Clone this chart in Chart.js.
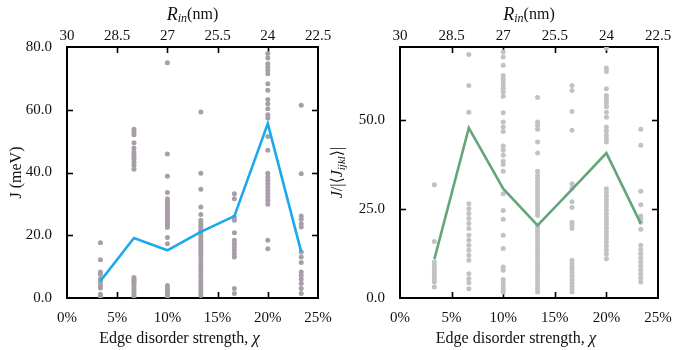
<!DOCTYPE html>
<html>
<head>
<meta charset="utf-8">
<script src="https://cdn.jsdelivr.net/npm/chart.js@4.4.1/dist/chart.umd.min.js"></script>
<style>
  body { margin: 0; background: #fff; }
  #wrap { position: relative; width: 680px; height: 350px; }
  canvas { position: absolute; top: 0; }
</style>
</head>
<body>
<div id="wrap">
  <canvas id="left" width="340" height="350" style="left:0"></canvas>
  <canvas id="right" width="360" height="350" style="left:320px"></canvas>
</div>
<script>
// ---------- DATA ----------
const disorder = [3.33, 6.67, 10, 13.33, 16.67, 20, 23.33];   // edge disorder strength (%)
const rinLabels = ["30", "28.5", "27", "25.5", "24", "22.5"];   // top axis, R_in (nm)

// left panel: J (meV), one array per disorder column
const jCol1 = [17.6, 12.2, 8.3, 7.5, 6.0, 5.1, 4.0, 3.2, 1.2, 0.4];
const jCol2 = [53.8, 52.9, 52.0, 49.5, 47.8, 46.5, 45.7, 44.9, 44.2, 43.3, 42.3, 41.0,
               6.5, 6.0, 5.5, 5.0, 4.5, 3.8, 3.0, 2.2, 1.5, 0.8, 0.3];
const jCol3 = [75.0, 45.9, 38.8, 33.6, 31.6, 30.9, 30.2, 29.5, 28.8, 28.1, 27.4, 26.7, 26.0,
               25.3, 24.6, 23.9, 23.2, 22.5, 19.3, 17.3, 4.0, 3.3, 2.6, 2.0, 1.3, 0.6, 0.1];
const jCol4 = [59.3, 39.8, 34.7, 29.0, 26.6, 24.8, 24.0, 23.2, 22.4, 21.6, 20.8, 20.0, 19.2,
               18.4, 17.6, 16.8, 16.0, 15.2, 14.4, 13.6, 12.6, 11.6, 10.6, 9.6, 8.6, 7.6,
               6.6, 5.6, 4.6, 3.6, 2.6, 1.6, 0.8];
const jCol5 = [33.2, 31.6, 25.8, 24.8, 20.8, 18.4, 17.3, 16.3, 15.2, 14.1, 13.1, 3.0, 1.4];
const jCol6 = [77.9, 76.5, 74.7, 73.6, 72.6, 71.5, 68.3, 66.2, 63.3, 61.9, 60.3, 58.4, 57.4,
               51.5, 47.1, 39.8, 38.6, 37.5, 36.4, 35.4, 34.3, 33.2, 32.2, 31.1, 29.9, 18.4, 15.7];
const jCol7 = [61.4, 39.6, 26.1, 25.1, 23.7, 22.6, 14.7, 13.1, 11.3, 8.3, 7.2, 6.0, 4.6, 3.0, 1.4];
const jMean = [5.4, 19.1, 15.2, 21.1, 26.1, 55.6, 14.7];

// right panel: J / |<J_ijkl>|
const rCol1 = [31.8, 15.9, 10.1, 9.2, 8.2, 7.3, 6.4, 5.4, 4.5, 3.1];
const rCol2 = [68.4, 59.7, 52.2, 26.5, 25.1, 23.7, 22.3, 20.9, 19.5, 17.6, 16.2, 14.8, 13.4,
               12.0, 10.6, 6.8, 5.4, 4.3, 2.6];
const rCol3 = [69.1, 67.7, 65.4, 62.5, 61.6, 60.7, 59.7, 58.8, 57.9, 56.7, 52.0, 49.4, 48.0,
               46.8, 42.7, 41.5, 40.1, 38.4, 37.5, 35.6, 29.3, 24.6, 22.1, 17.6, 13.9, 8.7,
               7.8, 5.2, 4.3, 3.4, 2.4, 1.7];
const rCol4 = [56.3, 49.4, 48.5, 47.4, 43.8, 40.7, 35.6, 34.5, 33.6, 32.6, 31.7, 30.7, 29.8,
               28.8, 27.9, 26.9, 26.0, 25.1, 24.1, 23.2, 20.4, 19.5, 18.6, 17.6, 16.7, 15.8,
               14.8, 13.9, 13.0, 12.0, 11.1, 10.2, 9.2, 8.3, 7.4, 6.4, 5.5, 4.6, 3.6, 2.7, 1.7];
const rCol5 = [59.7, 58.3, 52.4, 47.1, 32.1, 30.8, 27.0, 25.4, 21.3, 20.4, 19.5, 10.6, 9.7,
               8.8, 7.9, 7.0, 6.1, 5.2, 4.3, 3.4, 2.5, 1.7];
const rCol6 = [70.2, 64.6, 63.6, 58.8, 56.9, 56.0, 55.1, 54.6, 53.7, 52.2, 50.8, 48.0, 46.9,
               45.8, 44.7, 43.8, 30.7, 29.7, 28.7, 27.7, 26.7, 25.7, 24.7, 23.7, 22.7, 21.7,
               20.7, 19.7, 18.7, 17.7, 16.7, 15.7, 14.6, 13.5, 12.3, 11.0];
const rCol7 = [47.4, 42.9, 30.0, 26.2, 23.0, 22.3, 21.3, 19.3, 14.8, 13.6, 12.4, 11.3, 10.2,
               9.0, 7.8, 6.7, 5.6, 4.5];
const rMean = [10.9, 47.8, 30.7, 20.4, 30.5, 40.7, 20.9];

// ---------- HELPERS ----------
const SERIF = "'Liberation Serif', 'DejaVu Serif', serif";
Chart.defaults.font.family = SERIF;
Chart.defaults.font.size = 15;
Chart.defaults.color = "#111";

function toPoints(cols) {
  const pts = [];
  cols.forEach((col, i) => col.forEach(v => pts.push({ x: disorder[i], y: v })));
  return pts;
}

// draw a run of text pieces with different fonts, centred at (x, y)
function drawRich(ctx, parts, x, y, angle) {
  ctx.save();
  ctx.translate(x, y);
  if (angle) ctx.rotate(angle);
  ctx.fillStyle = "#111";
  ctx.textBaseline = "middle";
  ctx.textAlign = "left";
  let w = 0;
  parts.forEach(p => { ctx.font = p.font; w += ctx.measureText(p.t).width; });
  let cx = -w / 2;
  parts.forEach(p => {
    ctx.font = p.font;
    ctx.fillText(p.t, cx, p.dy || 0);
    cx += ctx.measureText(p.t).width;
  });
  ctx.restore();
}

// frame + inward tick marks on all four sides, titles, top tick labels
const frameTicks = {
  id: "frameTicks",
  beforeDatasetsDraw(chart) {
    const { ctx, chartArea: a, scales } = chart;
    const len = 6;
    ctx.save();
    ctx.strokeStyle = "#000";
    ctx.lineWidth = 1.6;
    const seg = (x1, y1, x2, y2) => { ctx.beginPath(); ctx.moveTo(x1, y1); ctx.lineTo(x2, y2); ctx.stroke(); };
    scales.x.ticks.forEach(t => {
      if (t.value <= scales.x.min || t.value >= scales.x.max) return;
      const px = Math.round(scales.x.getPixelForValue(t.value)) + 0.5;
      seg(px, a.bottom, px, a.bottom - len);
      seg(px, a.top, px, a.top + len);
    });
    scales.y.ticks.forEach(t => {
      if (t.value <= scales.y.min || t.value >= scales.y.max) return;
      const py = Math.round(scales.y.getPixelForValue(t.value)) + 0.5;
      seg(a.left, py, a.left + len, py);
      seg(a.right, py, a.right - len, py);
    });
    ctx.lineWidth = 2;
    ctx.strokeRect(a.left, a.top, a.right - a.left, a.bottom - a.top);
    ctx.restore();
  },
  afterDraw(chart) {
    const { ctx, chartArea: a, scales } = chart;
    const mid = (a.left + a.right) / 2;
    // top axis labels (R_in)
    ctx.save();
    ctx.font = "15px " + SERIF;
    ctx.fillStyle = "#111";
    ctx.textAlign = "center";
    ctx.textBaseline = "middle";
    scales.x2.ticks.forEach((t, i) => {
      ctx.fillText(rinLabels[i], scales.x2.getPixelForValue(t.value), 36);
    });
    ctx.restore();
    drawRich(ctx, [
      { t: "R", font: "italic 18px " + SERIF },
      { t: "in", font: "italic 12px " + SERIF, dy: 4 },
      { t: "(nm)", font: "16px " + SERIF }
    ], mid, 15);
    drawRich(ctx, [
      { t: "Edge disorder strength, ", font: "16px " + SERIF },
      { t: "χ", font: "italic 17px " + SERIF }
    ], mid - 13, 339);
    const yt = chart.options.plugins.frameTicks.yTitle;
    drawRich(ctx, yt.parts, yt.x, (a.top + a.bottom) / 2, -Math.PI / 2);
  }
};

function makeChart(id, cols, mean, yMax, yStep, dotColor, lineColor, yAxisW, yTitle) {
  return new Chart(document.getElementById(id), {
    type: "scatter",
    data: {
      datasets: [
        {
          data: disorder.map((d, i) => ({ x: d, y: mean[i] })),
          showLine: true,
          borderColor: lineColor,
          borderWidth: 2.6,
          pointRadius: 0,
          fill: false
        },
        {
          data: toPoints(cols),
          backgroundColor: dotColor,
          borderWidth: 0,
          pointRadius: 2.5
        }
      ]
    },
    options: {
      responsive: false,
      animation: false,
      devicePixelRatio: 1,
      layout: { padding: 0 },
      plugins: {
        legend: { display: false },
        tooltip: { enabled: false },
        frameTicks: { yTitle }
      },
      scales: {
        x: {
          type: "linear", position: "bottom", min: 0, max: 25,
          grid: { display: false }, border: { display: false },
          ticks: { stepSize: 5, padding: 3, callback: v => v + "%" },
          afterFit: s => { s.height = 52; }
        },
        x2: {
          type: "linear", position: "top", min: 0, max: 25,
          grid: { display: false }, border: { display: false },
          ticks: { stepSize: 5, display: false },
          afterFit: s => { s.height = 47; }
        },
        y: {
          type: "linear", position: "left", min: 0, max: yMax,
          grid: { display: false }, border: { display: false },
          ticks: { stepSize: yStep, padding: 7, includeBounds: false, callback: v => v.toFixed(1) },
          afterFit: s => { s.width = yAxisW; }
        },
        y2: {
          type: "linear", position: "right", min: 0, max: yMax,
          grid: { display: false }, border: { display: false },
          ticks: { display: false },
          afterFit: s => { s.width = 22; }
        }
      }
    },
    plugins: [frameTicks]
  });
}

// ---------- LEFT: J (meV) ----------
makeChart("left", [jCol1, jCol2, jCol3, jCol4, jCol5, jCol6, jCol7], jMean,
  80, 20, "#a89ea9", "#1aa9ec", 67,
  { x: 17, parts: [{ t: "J (meV)", font: "16px " + SERIF }] });

// ---------- RIGHT: J / |<J_ijkl>| ----------
makeChart("right", [rCol1, rCol2, rCol3, rCol4, rCol5, rCol6, rCol7], rMean,
  70.5, 25, "#c2c2c2", "#62a67a", 80,
  { x: 18, parts: [
    { t: "J", font: "italic 16px " + SERIF },
    { t: "/|⟨", font: "16px " + SERIF },
    { t: "J", font: "italic 16px " + SERIF },
    { t: "ijkl", font: "italic 11px " + SERIF, dy: 4 },
    { t: "⟩|", font: "16px " + SERIF }
  ] });
</script>
</body>
</html>
